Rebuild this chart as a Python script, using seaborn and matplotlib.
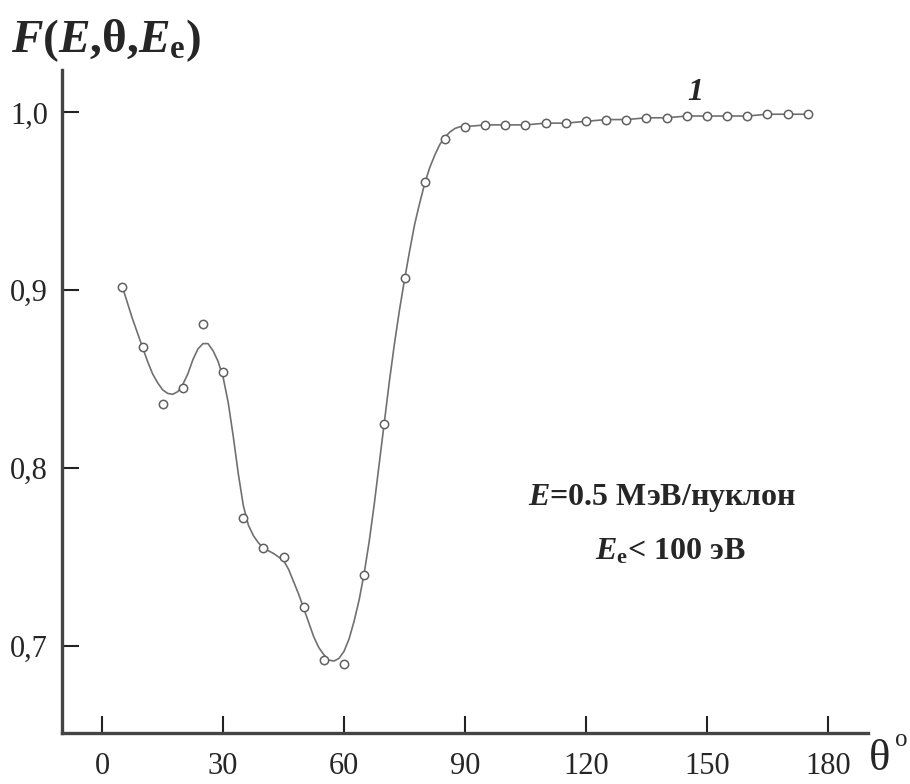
import numpy as np
import pandas as pd
import matplotlib
matplotlib.use('Agg')
import matplotlib.pyplot as plt
import seaborn as sns

# measured points (open circles)
theta = [5, 10, 15, 20, 25, 30, 35, 40, 45, 50, 55, 60, 65, 70, 75, 80, 85, 90,
         95, 100, 105, 110, 115, 120, 125, 130, 135, 140, 145, 150, 155, 160,
         165, 170, 175]
F_pts = [0.902, 0.868, 0.836, 0.845, 0.881, 0.854, 0.772, 0.755, 0.750, 0.722,
         0.692, 0.690, 0.740, 0.825, 0.907, 0.961, 0.985, 0.992,
         0.993, 0.993, 0.993, 0.994, 0.994, 0.995, 0.996, 0.996, 0.997, 0.997,
         0.998, 0.998, 0.998, 0.998, 0.999, 0.999, 0.999]

# smoothed curve
curve_theta = [5, 6.25, 7.5, 8.75, 10, 11.25, 12.5, 13.75, 15, 16.25, 17.5,
               18.75, 20, 21.25, 22.5, 23.75, 25, 26.25, 27.5, 28.75, 30,
               31.25, 32.5, 33.75, 35, 36.25, 37.5, 38.75, 40, 42.5, 45,
               46.25, 47.5, 48.75, 50, 51.25, 52.5, 53.75, 55, 56.25, 57.5,
               58.75, 60, 61.25, 62.5, 63.75, 65, 66.25, 67.5, 68.75, 70,
               71.25, 72.5, 73.75, 75, 76.25, 77.5, 78.75, 80, 81.25, 82.5,
               83.75, 85, 86.25, 87.5, 88.75, 90, 95, 100, 105, 110, 115, 120,
               125, 130, 135, 140, 145, 150, 155, 160, 165, 170, 175]
curve_F = [0.902, 0.893, 0.884, 0.876, 0.868, 0.860, 0.853, 0.848, 0.844,
           0.842, 0.8415, 0.843, 0.847, 0.853, 0.861, 0.867, 0.870, 0.870,
           0.866, 0.860, 0.851, 0.837, 0.818, 0.797, 0.779, 0.768, 0.762,
           0.758, 0.755, 0.752, 0.748, 0.743, 0.736, 0.729, 0.721, 0.713,
           0.705, 0.699, 0.695, 0.692, 0.6915, 0.693, 0.697, 0.704, 0.714,
           0.726, 0.741, 0.759, 0.780, 0.803, 0.826, 0.849, 0.870, 0.889,
           0.906, 0.922, 0.937, 0.949, 0.960, 0.969, 0.976, 0.982, 0.986,
           0.989, 0.991, 0.992, 0.992, 0.993, 0.993, 0.993, 0.994, 0.994,
           0.995, 0.996, 0.996, 0.997, 0.997, 0.998, 0.998, 0.998, 0.998,
           0.999, 0.999, 0.999]

xticks = [0, 30, 60, 90, 120, 150, 180]
yticks = [0.7, 0.8, 0.9, 1.0]
ytick_labels = ['0,7', '0,8', '0,9', '1,0']

sns.set_style('white')
plt.rcParams['font.family'] = ['Liberation Serif', 'DejaVu Serif']
plt.rcParams['mathtext.fontset'] = 'custom'
plt.rcParams['mathtext.rm'] = 'Liberation Serif:bold'
plt.rcParams['mathtext.it'] = 'Liberation Serif:bold:italic'
plt.rcParams['mathtext.bf'] = 'Liberation Serif:bold'

fig = plt.figure(figsize=(9.1, 7.84), dpi=100)
ax = fig.add_axes([0.068, 0.065, 0.886, 0.846])

curve = pd.DataFrame({'theta': curve_theta, 'F': curve_F})
pts = pd.DataFrame({'theta': theta, 'F': F_pts})
sns.lineplot(data=curve, x='theta', y='F', ax=ax, color='#707070', lw=1.2)
sns.scatterplot(data=pts, x='theta', y='F', ax=ax, marker='o', s=36,
                facecolor='white', edgecolor='#606060', linewidth=1.1, zorder=3)

ax.set_xlim(-10, 190)
ax.set_ylim(0.651, 1.024)
ax.set_xticks(xticks)
ax.set_xticklabels([str(t) for t in xticks])
ax.set_yticks(yticks)
ax.set_yticklabels(ytick_labels)
ax.tick_params(bottom=True, left=True, direction='in', length=12, width=1.5,
               color='#222222', labelsize=22, pad=10)
ax.tick_params(axis='x', pad=14)
for s in ['top', 'right']:
    ax.spines[s].set_visible(False)
for s in ['left', 'bottom']:
    ax.spines[s].set_color('#444444')
    ax.spines[s].set_linewidth(2.4)
ax.set_xlabel('')
ax.set_ylabel('')

fig.text(0.012, 0.948,
         r'$\mathit{F}(\mathit{E}{,}\mathrm{\theta}{,}\mathit{E}_{\mathrm{e}})$',
         fontsize=34, ha='left', va='center')
# x axis label: theta with degree-like superscript "o"
fig.text(0.955, 0.032, 'θ', fontsize=32, ha='left', va='center')
fig.text(0.983, 0.056, 'o', fontsize=18, ha='left', va='center')
ax.text(147, 1.011, '1', fontsize=23, fontweight='bold', fontstyle='italic',
        ha='center', va='center')
ax.text(139, 0.783, r'$\mathit{E}$=0.5 МэВ/нуклон', fontsize=23,
        fontweight='bold', ha='center', va='center')
ax.text(141, 0.753, r'$\mathit{E}_{\mathrm{e}}$< 100 эВ', fontsize=23,
        fontweight='bold', ha='center', va='center')

plt.savefig('out.png', dpi=100)
